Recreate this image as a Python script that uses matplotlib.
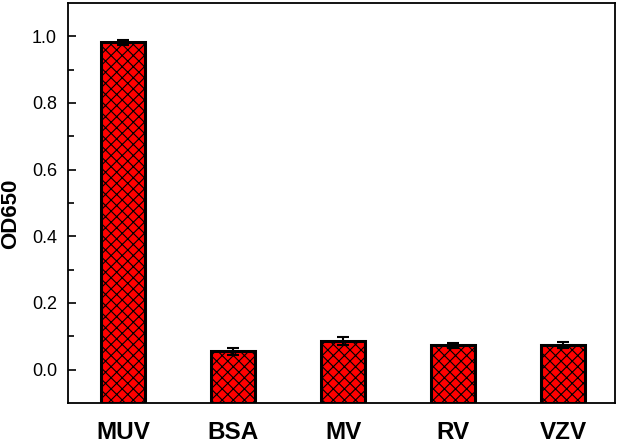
import matplotlib
matplotlib.use("Agg")
import matplotlib.pyplot as plt
import numpy as np

plt.rcParams['font.family'] = ['Liberation Sans', 'DejaVu Sans']
plt.rcParams['hatch.linewidth'] = 0.8

categories = ["MUV", "BSA", "MV", "RV", "VZV"]
values = [0.982, 0.055, 0.085, 0.073, 0.074]
errors = [0.008, 0.011, 0.012, 0.007, 0.010]

ymin, ymax = -0.1, 1.1

fig = plt.figure(figsize=(6.2, 4.45), dpi=100)
ax = fig.add_axes([0.1097, 0.0944, 0.882, 0.899])
x = np.arange(1, len(categories) + 1)
heights = [v - ymin for v in values]
ax.bar(x, heights, bottom=ymin, width=0.4, color='#ff0000', edgecolor='black',
       linewidth=2.2, hatch='xxx', zorder=2)
ax.errorbar(x, values, yerr=errors, fmt='none', ecolor='black', elinewidth=1.5,
            capsize=4, capthick=1.5, zorder=3)
ax.set_xlim(0.5, 5.47)
ax.set_ylim(ymin, ymax)
ax.set_yticks([0.0, 0.2, 0.4, 0.6, 0.8, 1.0])
ax.set_yticklabels(["0.0", "0.2", "0.4", "0.6", "0.8", "1.0"])
ax.set_yticks(np.arange(0.1, 1.0, 0.2), minor=True)
ax.tick_params(axis='y', which='major', direction='in', length=6, width=1.2,
               labelsize=13, pad=8)
ax.tick_params(axis='y', which='minor', direction='in', length=4, width=1.2)
ax.set_xticks(x)
ax.set_xticklabels(categories, fontsize=17.5, fontweight='bold')
ax.tick_params(axis='x', length=0, pad=13)
ax.set_ylabel("OD650", fontsize=16, fontweight='bold')
ax.yaxis.set_label_coords(-0.086, 0.4725)
for s in ax.spines.values():
    s.set_linewidth(1.3)
fig.savefig("out.png", dpi=100)
